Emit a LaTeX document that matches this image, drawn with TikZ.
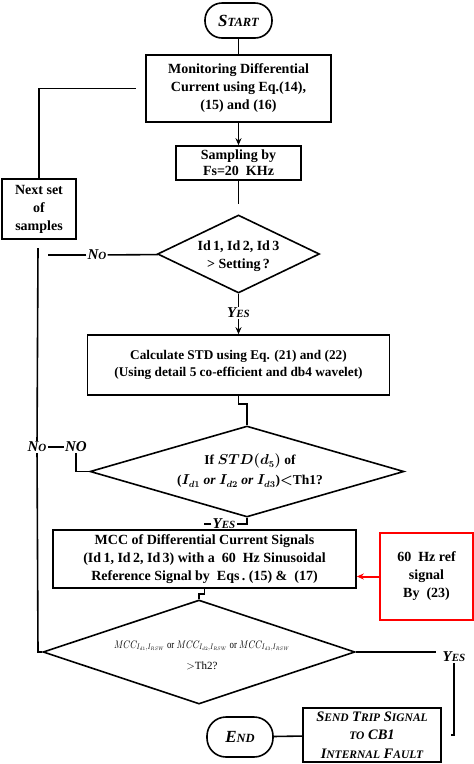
\documentclass[tikz,border=0pt]{standalone}
\usepackage{fontspec}
\usepackage{graphicx}
\setmainfont{Liberation Serif}
\usetikzlibrary{shapes.geometric,arrows.meta}

\newcommand{\fsc}[3][11]{#2{\fontsize{#1}{#1}\selectfont #3}}

\tikzset{
  box/.style={draw, line width=1.6pt, align=center, inner sep=0pt,
    font=\bfseries\fontsize{14}{18}\selectfont},
  term/.style={draw, line width=1.6pt, rounded corners=17pt, inner sep=0pt,
    font=\bfseries\itshape\fontsize{17}{18}\selectfont},
  cond/.style={draw, diamond, line width=1.6pt, inner sep=0pt},
  condtext/.style={align=center, inner sep=0pt},
  lab/.style={inner sep=1pt, font=\bfseries\itshape\fontsize{15}{16}\selectfont},
  line/.style={line width=1.6pt},
  tip/.style={-{Stealth[length=7pt,width=6pt]}},
}

\begin{document}
\begin{tikzpicture}[x=1pt,y=-1pt]
  \useasboundingbox (0,0) rectangle (474,764);

  \node[term, minimum width=67pt, minimum height=35pt] (start) at (238.5,20.5) {\fsc[12.5]{S}{TART}};
  \node[box, minimum width=185pt, minimum height=67pt] (mon) at (238.5,88.5)
    {Monitoring Differential\\Current using Eq.(14),\\(15) and (16)};
  \node[box, minimum width=125pt, minimum height=34pt, font=\bfseries\fontsize{14}{16}\selectfont] (samp) at (238.5,163)
    {Sampling by\\Fs=20~~KHz};
  \node[box, minimum width=74pt, minimum height=60pt] (next) at (39,209)
    {Next set\\of\\samples};

  \node[cond, minimum width=162pt, minimum height=78pt] (d1) at (238.5,254) {};
  \node[condtext, font=\bfseries\fontsize{14}{18}\selectfont] (d1t) at (238.5,256)
    {Id\,1, Id\,2, Id\,3\\> Setting\,?};
  \node[lab] (yes1) at (238.5,313) {\fsc{Y}{ES}};
  \node[lab] (no1) at (97,255) {\fsc{N}{O}};

  \node[box, minimum width=302pt, minimum height=60pt, font=\bfseries\fontsize{13.3}{17}\selectfont] (calc) at (238.5,365)
    {Calculate STD using Eq. (21) and (22)\\(Using detail 5 co-efficient and db4 wavelet)};

  \node[cond, minimum width=314pt, minimum height=91pt] (d2) at (247,471.5) {};
  \node[condtext, font=\bfseries\boldmath\fontsize{13.5}{20}\selectfont] (d2t) at (250,471)
    {If $STD(d_5)$ of\\($I_{d1}$ \textit{or} $I_{d2}$ \textit{or} $I_{d3}$)$<$Th1?};
  \node[lab] (no2) at (76,447) {NO};
  \node[lab] (no3) at (37,447) {\fsc{N}{O}};
  \node[lab] (yes2) at (224,524) {\fsc{Y}{ES}};

  \node[box, minimum width=303pt, minimum height=58pt, font=\bfseries\fontsize{14}{18}\selectfont] (mcc) at (204.5,559)
    {MCC of Differential Current Signals\\(Id\,1, Id\,2, Id\,3) with a~~60~~Hz Sinusoidal\\Reference Signal by~~Eqs\,.~(15)~\&~~(17)};
  \node[box, draw=red, line width=2pt, minimum width=93pt, minimum height=87pt] (ref) at (426.5,576.5)
    {60~~Hz ref\\signal\\By~~(23)};

  \node[cond, minimum width=312pt, minimum height=104pt] (d3) at (199,652) {};
  \node[condtext, font=\fontsize{11}{21}\selectfont] (d3t) at (202,655)
    {\scalebox{0.8}[1]{$MCC_{I_{d1},I_{RSW}}$ or $MCC_{I_{d2},I_{RSW}}$ or $MCC_{I_{d3},I_{RSW}}$}\\$>$Th2?};
  \node[lab] (yes3) at (454,657) {\fsc{Y}{ES}};

  \node[box, minimum width=138pt, minimum height=54pt, font=\bfseries\itshape\fontsize{14.5}{18.5}\selectfont] (send) at (372,735)
    {\fsc[11.5]{S}{END} \fsc[11.5]{T}{RIP} \fsc[11.5]{S}{IGNAL}\\{\fontsize{11.5}{10}\selectfont TO} CB1\\\fsc[11.5]{I}{NTERNAL} \fsc[11.5]{F}{AULT}};
  \node[term, minimum width=66pt, minimum height=40pt, rounded corners=19pt] (stop) at (240,737) {\fsc[12.5]{E}{ND}};

  \coordinate (noend) at (48,255);
  \coordinate (ltop) at (38,248);
  \coordinate (lbot) at (38,652);
  \coordinate (ystub) at (204,524);

  \draw[line] (start) -- (mon);
  \draw[line, tip] (mon) -- (samp);
  \draw[line, shorten >=10pt] (samp) -- (d1);
  \draw[line] (d1) -- (yes1);
  \draw[line, tip] (yes1) -- (calc);
  \draw[line] (d1) -- (no1);
  \draw[line] (no1) -- (noend);
  \draw[line, shorten >=9pt] (next) |- (mon);
  \draw[line] (calc.south) -- ++(0,8) -| (d2.north);
  \draw[line] (d2.west) -| (no2.south);
  \draw[line] (no2) -- (no3);
  \draw[line] (ltop) -- (no3);
  \draw[line] (no3) -- (lbot) -- (d3.west);
  \draw[line] (d2.south) |- (yes2.east);
  \draw[line] (yes2.west) -- (ystub);
  \draw[line] (mcc.south) -- ++(0,5) -| (d3.north);
  \draw[line, red, line width=2pt, tip] (ref.west) -- (ref.west -| mcc.east);
  \draw[line, shorten >=5pt] (d3.east) -- (d3.east -| yes3.west);
  \draw[line, shorten >=9pt] (yes3.south) |- (send.east);
  \draw[line] (send) -- (stop);
\end{tikzpicture}
\end{document}
